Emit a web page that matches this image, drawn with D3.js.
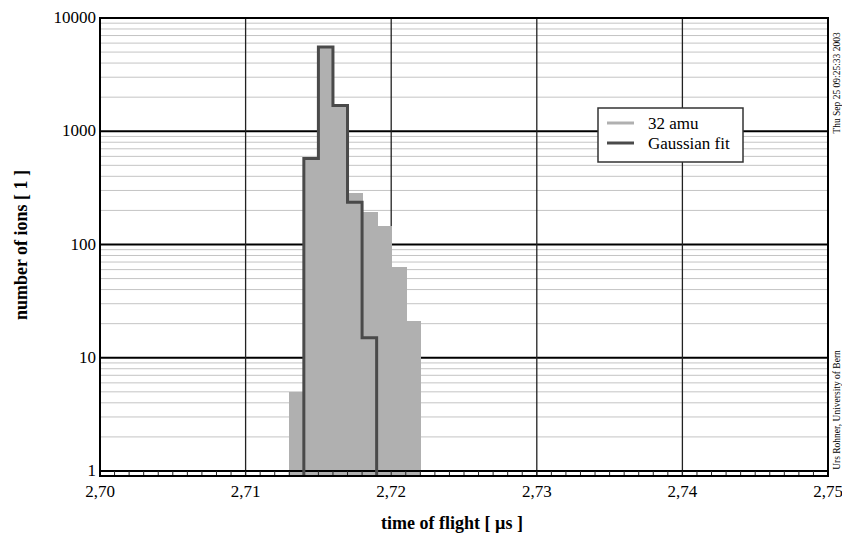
<!DOCTYPE html>
<html><head><meta charset="utf-8">
<script src="https://cdn.jsdelivr.net/npm/d3@7"></script>
<style>body{margin:0;background:#fff}svg{display:block}text{font-family:"Liberation Serif","Times New Roman",serif}</style>
</head><body>
<svg id="c" width="842" height="533"></svg>
<script>
// data
const binStarts = [2.713, 2.714, 2.715, 2.716, 2.717, 2.718, 2.719, 2.720, 2.721];
const counts32amu = [5, 580, 5500, 1700, 285, 193, 145, 63, 21];
const fitStarts = [2.714, 2.715, 2.716, 2.717, 2.718];
const fitCounts = [575, 5550, 1690, 236, 15];
const binWidth = 0.001;
const xTicks = [2.70, 2.71, 2.72, 2.73, 2.74, 2.75];
const yTicks = [1, 10, 100, 1000, 10000];
const legendLabels = ["32 amu", "Gaussian fit"];

const svg = d3.select("#c");
const L = 100, R = 828, T = 18, B = 476, Y1 = 471;
const x = d3.scaleLinear().domain([2.70, 2.75]).range([L, R]);
const y = d3.scaleLog().domain([1, 10000]).range([Y1, T]);

// minor horizontal grid
const minor = [];
for (let d = 1; d < 10000; d *= 10) for (let k = 2; k <= 9; k++) minor.push(d * k);
svg.append("g").selectAll("line").data(minor).join("line")
  .attr("x1", L).attr("x2", R).attr("y1", d => y(d)).attr("y2", d => y(d))
  .attr("stroke", "#c4c4c4").attr("stroke-width", 1);

// major horizontal grid
svg.append("g").selectAll("line").data(yTicks).join("line")
  .attr("x1", L).attr("x2", R).attr("y1", d => y(d)).attr("y2", d => y(d))
  .attr("stroke", "#000").attr("stroke-width", 2);
// vertical grid
svg.append("g").selectAll("line").data(xTicks).join("line")
  .attr("x1", d => x(d)).attr("x2", d => x(d)).attr("y1", T).attr("y2", B)
  .attr("stroke", "#222").attr("stroke-width", 1.3);

// histogram bars drawn over the grid
svg.append("g").attr("shape-rendering", "crispEdges").selectAll("rect").data(binStarts).join("rect")
  .attr("x", (d) => Math.round(x(d))).attr("width", d => Math.round(x(d + binWidth)) - Math.round(x(d)) + 1)
  .attr("y", (d, i) => y(counts32amu[i])).attr("height", (d, i) => B - y(counts32amu[i]))
  .attr("fill", "#b0b0b0");

// bottom axis line and minor x ticks
svg.append("line").attr("x1", L).attr("x2", R).attr("y1", Y1).attr("y2", Y1)
  .attr("stroke", "#000").attr("stroke-width", 2);
const xMinor = d3.range(0, 51).map(i => 2.70 + i * 0.001);
svg.append("g").selectAll("line").data(xMinor).join("line")
  .attr("x1", d => x(d)).attr("x2", d => x(d)).attr("y1", Y1).attr("y2", B)
  .attr("stroke", "#222").attr("stroke-width", 1);

// fit step line
const pts = [[fitStarts[0], 0]];
fitStarts.forEach((s, i) => { pts.push([s, fitCounts[i]]); pts.push([s + binWidth, fitCounts[i]]); });
pts.push([fitStarts[fitStarts.length - 1] + binWidth, 0]);
svg.append("path")
  .attr("d", d3.line().x(p => x(p[0])).y(p => p[1] <= 0 ? B : y(p[1]))(pts))
  .attr("fill", "none").attr("stroke", "#4a4a4a").attr("stroke-width", 3).attr("stroke-linejoin", "miter");

// frame
svg.append("rect").attr("x", L).attr("y", T).attr("width", R - L).attr("height", B - T)
  .attr("fill", "none").attr("stroke", "#000").attr("stroke-width", 2);

// tick labels
svg.append("g").selectAll("text").data(yTicks).join("text")
  .attr("x", L - 4).attr("y", d => y(d) + 5).attr("text-anchor", "end")
  .attr("font-size", 17).text(d => d);
svg.append("g").selectAll("text").data(xTicks).join("text")
  .attr("x", d => x(d)).attr("y", B + 21).attr("text-anchor", "middle")
  .attr("font-size", 17).text(d => d3.format(".2f")(d).replace(".", ","));

// axis titles
svg.append("text").attr("x", 452).attr("y", 529).attr("text-anchor", "middle")
  .attr("font-size", 18).attr("font-weight", "bold").text("time of flight [ \u00b5s ]");
svg.append("text").attr("transform", "translate(27,245) rotate(-90)").attr("text-anchor", "middle")
  .attr("font-size", 18).attr("font-weight", "bold").text("number of ions  [ 1 ]");

// side texts
svg.append("text").attr("transform", "translate(840,83) rotate(-90)").attr("text-anchor", "middle")
  .attr("font-size", 9.5).text("Thu Sep 25 09:25:33 2003");
svg.append("text").attr("transform", "translate(840,410) rotate(-90)").attr("text-anchor", "middle")
  .attr("font-size", 9.5).text("Urs Rohner, University of Bern");

// legend
const lg = svg.append("g");
lg.append("rect").attr("x", 598).attr("y", 108).attr("width", 145).attr("height", 54)
  .attr("fill", "#fff").attr("stroke", "#333").attr("stroke-width", 1.5);
const lgColors = ["#b0b0b0", "#4a4a4a"];
legendLabels.forEach((t, i) => {
  lg.append("line").attr("x1", 607).attr("x2", 634).attr("y1", 123 + i * 20).attr("y2", 123 + i * 20)
    .attr("stroke", lgColors[i]).attr("stroke-width", 3);
  lg.append("text").attr("x", 648).attr("y", 129 + i * 20).attr("font-size", 17).text(t);
});
</script>
</body></html>
